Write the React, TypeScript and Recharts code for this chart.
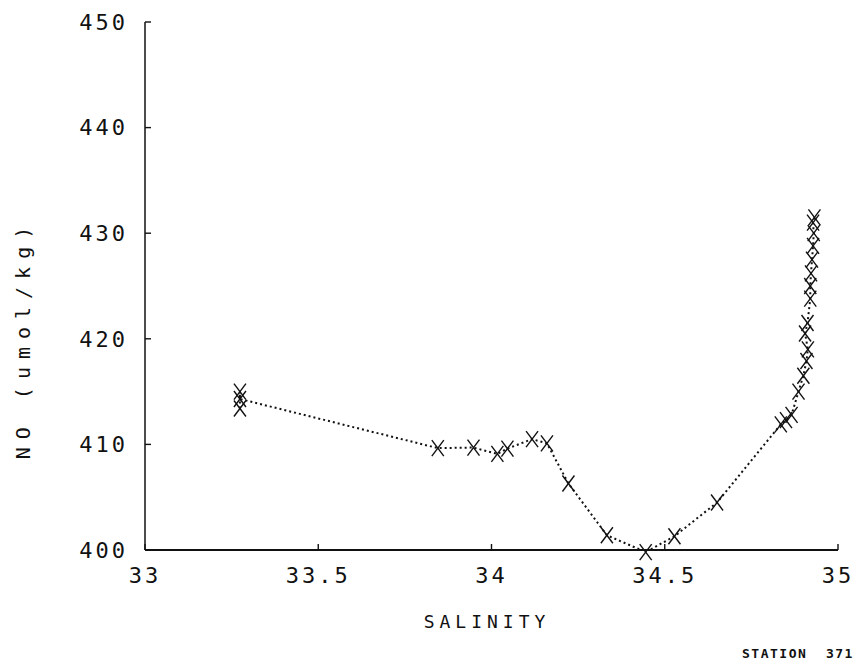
import { ComposedChart, Line, XAxis, YAxis } from "recharts";

// Station 371 profile: salinity vs NO, surface first.
const salinity = [
  33.274, 33.274, 33.274, 33.845, 33.948, 34.017, 34.046, 34.117, 34.16, 34.222,
  34.333, 34.445, 34.528, 34.651, 34.835, 34.85, 34.866, 34.886, 34.9, 34.909,
  34.913, 34.905, 34.912, 34.92, 34.92, 34.922, 34.925, 34.928, 34.93, 34.928, 34.932,
];
const no = [
  413.4, 415.0, 414.3, 409.65, 409.7, 409.1, 409.6, 410.5, 410.1, 406.3,
  401.4, 399.8, 401.3, 404.5, 411.9, 412.3, 412.8, 415.0, 416.5, 417.9,
  419.0, 420.5, 421.5, 423.8, 425.0, 426.2, 427.5, 428.8, 430.0, 431.0, 431.5,
];
const xTicks = [33, 33.5, 34, 34.5, 35];
const yTicks = [400, 410, 420, 430, 440, 450];

const data = salinity.map((s, i) => ({ s, no: no[i] }));

const FONT = "'DejaVu Sans Mono', monospace";

function Cross(props: any) {
  const { cx, cy } = props;
  if (cx == null || cy == null) return null;
  return (
    <g stroke="#111" strokeWidth={1.4} fill="none">
      <line x1={cx - 6} y1={cy - 8} x2={cx + 6} y2={cy + 8} />
      <line x1={cx + 6} y1={cy - 8} x2={cx - 6} y2={cy + 8} />
    </g>
  );
}

export default function App() {
  return (
    <div style={{ position: "absolute", left: 0, top: 0, width: 861, height: 671, background: "#fff" }}>
      <style>{`.recharts-line, .recharts-line-dots { clip-path: none; }`}</style>
      <ComposedChart
        width={861}
        height={671}
        data={data}
        margin={{ top: 22, right: 23, bottom: 61, left: 0 }}
      >
        <XAxis
          dataKey="s"
          type="number"
          domain={[33, 35]}
          ticks={xTicks}
          tickFormatter={(v: number) => String(v)}
          tickSize={-6}
          tickMargin={23}
          height={60}
          axisLine={{ stroke: "#111", strokeWidth: 1.8 }}
          tickLine={{ stroke: "#111", strokeWidth: 1.4 }}
          tick={{ fill: "#111", fontSize: 22, fontFamily: FONT, letterSpacing: 3 }}
          label={(p: any) => (
            <text
              x={487}
              y={628}
              textAnchor="middle"
              fill="#111"
              fontSize={18}
              fontFamily={FONT}
              letterSpacing={5}
            >
              SALINITY
            </text>
          )}
        />
        <YAxis
          dataKey="no"
          type="number"
          domain={[400, 450]}
          allowDataOverflow
          ticks={yTicks}
          tickSize={-6}
          tickMargin={23}
          width={145}
          axisLine={{ stroke: "#111", strokeWidth: 1.5 }}
          tickLine={{ stroke: "#111", strokeWidth: 1.4 }}
          tick={{ fill: "#111", fontSize: 22, fontFamily: FONT, letterSpacing: 3 }}
          label={(p: any) => (
            <text
              x={30}
              y={339}
              transform="rotate(-90 30 339)"
              textAnchor="middle"
              fill="#111"
              fontSize={20}
              fontFamily={FONT}
              letterSpacing={8}
            >
              NO (umol/kg)
            </text>
          )}
        />
        <Line
          dataKey="no"
          type="linear"
          stroke="#111"
          strokeWidth={2}
          strokeDasharray="2 3"
          dot={<Cross />}
          activeDot={false}
          isAnimationActive={false}
        />
      </ComposedChart>
      <div
        style={{
          position: "absolute",
          left: 742,
          top: 646,
          fontFamily: FONT,
          fontSize: 13,
          fontWeight: "bold",
          letterSpacing: 1.5,
          whiteSpace: "pre",
          color: "#111",
        }}
      >
        STATION  371
      </div>
    </div>
  );
}
